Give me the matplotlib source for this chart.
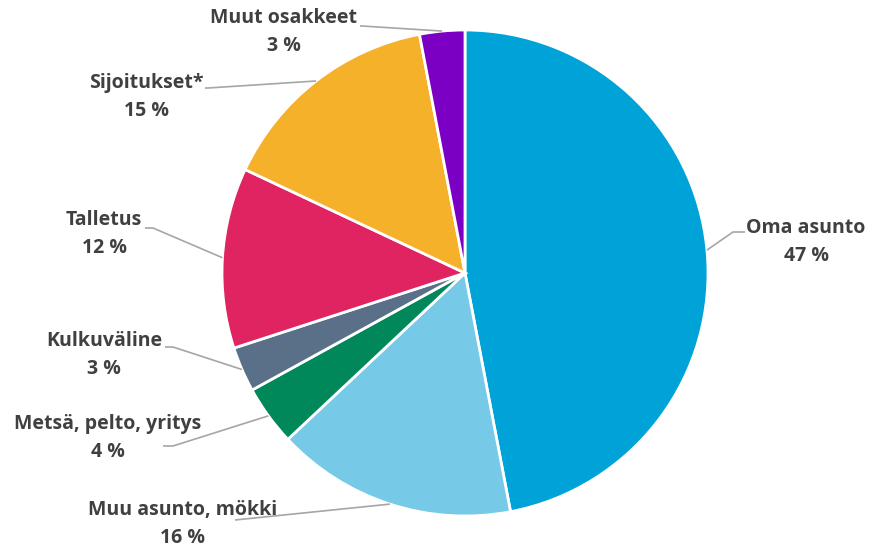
import numpy as np
import matplotlib.pyplot as plt

plt.rcParams['font.family'] = ['Open Sans', 'DejaVu Sans']

# Varallisuuden jakauma (%)
labels = ["Oma asunto", "Muu asunto, mökki", "Metsä, pelto, yritys", "Kulkuväline",
          "Talletus", "Sijoitukset*", "Muut osakkeet"]
shares = [47, 16, 4, 3, 12, 15, 3]
colors = ["#00A3D8", "#76C9E7", "#00875A", "#5A7089", "#DF2461", "#F6B12A", "#7B00C4"]

# label block positions (first line centre) and leader elbows, pixel coords from top
text_pos = [(806, 228), (183, 510), (108, 424), (104, 341), (104, 220), (146, 83), (284, 18)]
elbows = [(733, 232), (235, 520), (173, 446), (173, 347), (153, 228), (208, 88), (362, 26)]
ends = [(745, 232), (235, 520), (163, 446), (165, 347), (145, 228), (205, 88), (360, 26)]

W, H = 869, 550
cx, cy, r = 465, H - 273, 243

fig = plt.figure(figsize=(W / 100, H / 100), dpi=100)
ax = fig.add_axes([0, 0, 1, 1])

wedges, _ = ax.pie(shares, colors=colors, startangle=90, counterclock=False,
                   center=(cx, cy), radius=r, frame=True,
                   wedgeprops=dict(edgecolor="white", linewidth=2))
ax.set_xlim(0, W)
ax.set_ylim(0, H)
ax.set_aspect("equal")
ax.axis("off")

txt_color = "#404040"
line_color = "#A6A6A6"
for w, lab, val, (tx, ty), (ex, ey), (hx, hy) in zip(wedges, labels, shares, text_pos, elbows, ends):
    mid = np.deg2rad((w.theta1 + w.theta2) / 2)
    px, py = cx + r * np.cos(mid), cy + r * np.sin(mid)
    ax.plot([px, ex, hx], [py, H - ey, H - hy], color=line_color, lw=1.2,
            solid_capstyle="butt", zorder=1)
    ax.text(tx, H - ty, lab, ha="center", va="center", fontsize=14,
            fontweight="bold", color=txt_color)
    ax.text(tx, H - ty - 28, f"{val} %", ha="center", va="center", fontsize=14,
            fontweight="bold", color=txt_color)

fig.savefig("out.png", dpi=100)
